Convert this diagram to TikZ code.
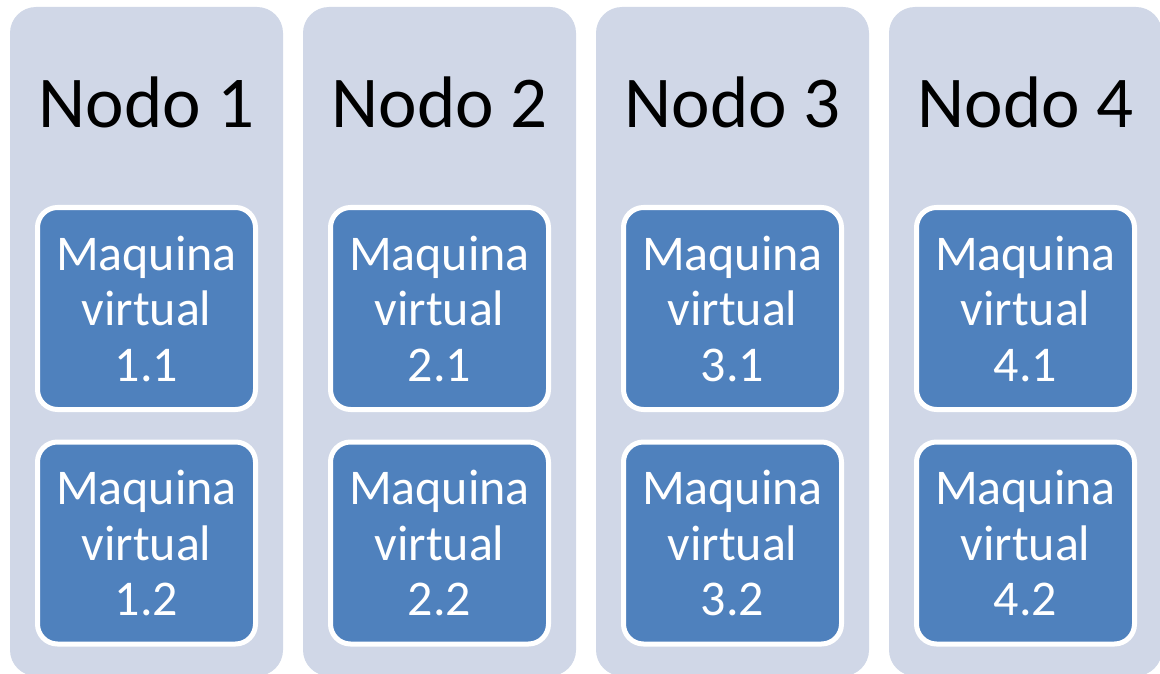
\documentclass[tikz,border=0pt]{standalone}
\usepackage{fontspec}
\setmainfont{Carlito}
\definecolor{colfill}{RGB}{208,215,231}
\definecolor{vmblue}{RGB}{79,129,189}
\tikzset{
  x=1pt, y=-1pt,
  colbox/.style={fill=colfill, draw=none, rounded corners=26pt, minimum width=273pt, minimum height=669pt, inner sep=0pt},
  title/.style={anchor=base, text=black, font=\fontsize{73}{88}\selectfont, inner sep=0pt},
  vmbox/.style={fill=vmblue, draw=white, line width=5pt, rounded corners=20pt, minimum width=218pt, minimum height=202pt, inner sep=0pt, align=center, text=white, font=\fontsize{50}{55.5}\selectfont}
}
\begin{document}
\begin{tikzpicture}
\useasboundingbox (0,0) rectangle (1160,674);
\foreach \i/\cx in {1/146.5, 2/439.5, 3/732.5, 4/1025.5}{
  \node[colbox] (col\i) at (\cx,341.5) {};
  \node[title] (t\i) at (\cx,128) {Nodo \i};
  \node[vmbox] (vm\i a) at (\cx,308.5) {Maquina\\virtual\\\i.1};
  \node[vmbox] (vm\i b) at (\cx,543) {Maquina\\virtual\\\i.2};
}
\end{tikzpicture}
\end{document}
